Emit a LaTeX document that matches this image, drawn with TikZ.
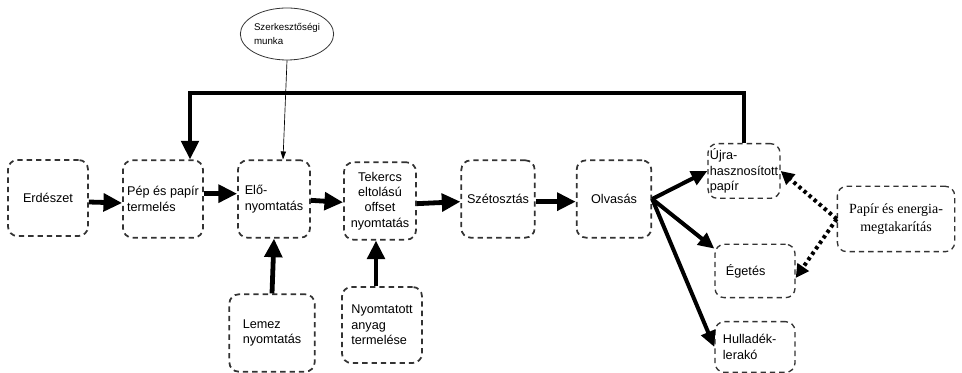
\documentclass[tikz,border=0pt]{standalone}
\usepackage{fontspec}
\setmainfont{Liberation Sans}
\newfontfamily\timesfont{Liberation Serif}
\usetikzlibrary{arrows.meta,shapes.geometric,calc}

\tikzset{
    stage/.style={draw=black!80, line width=1.3pt, dash pattern=on 4pt off 3pt,
        rounded corners=7pt, inner sep=0pt, align=left, font=\fontsize{9.5}{11.5}\selectfont},
    fat/.style={line width=3.6pt, -{Triangle[length=14pt,width=13pt]}},
    mid/.style={line width=3pt, -{Triangle[length=12pt,width=11pt]}},
    dots/.style={line width=3pt, dash pattern=on 2.5pt off 2.5pt, -{Triangle[length=10pt,width=10pt]}},
    thin/.style={line width=0.5pt, -{Triangle[length=6pt,width=4pt]}}
}

\begin{document}
\begin{tikzpicture}[x=0.75pt, y=-0.75pt]
    \useasboundingbox (0,0) rectangle (962,373);

    \node[stage, minimum width=60pt, minimum height=57pt] (erd) at (48,198) {Erdészet};
    \node[stage, minimum width=60pt, minimum height=58pt] (pep) at (163,199) {Pép és papír\\termelés};
    \node[stage, minimum width=54pt, minimum height=58pt] (elo) at (274,199) {Elő-\\nyomtatás};
    \node[stage, minimum width=54pt, minimum height=58pt, align=center] (tek) at (380,201) {Tekercs\\eltolású\\offset\\nyomtatás};
    \node[stage, minimum width=55pt, minimum height=58pt] (szet) at (498,199) {Szétosztás};
    \node[stage, minimum width=56pt, minimum height=58pt] (olv) at (614,199) {Olvasás};
    \node[stage, minimum width=54pt, minimum height=41pt, line width=1pt] (ujra) at (744,171) {Újra-\\hasznosított\\papír};
    \node[stage, minimum width=60pt, minimum height=40pt, line width=1pt] (eget) at (755,271) {Égetés\hspace*{14pt}};
    \node[stage, minimum width=60pt, minimum height=38pt, line width=1pt] (hull) at (755,347) {Hulladék-\hspace*{8pt}\\lerakó};
    \node[stage, minimum width=88pt, minimum height=49pt, align=center, line width=1pt,
        font=\timesfont\fontsize{10.5}{13}\selectfont] (papir) at (896,219) {Papír és energia-\\megtakarítás};
    \node[stage, minimum width=64pt, minimum height=58pt] (lemez) at (272,333) {Lemez\\nyomtatás};
    \node[stage, minimum width=60pt, minimum height=57pt] (nyom) at (382,325) {Nyomtatott\\anyag\\termelése};
    \node[draw=black!80, line width=0.6pt, ellipse, minimum width=61pt, minimum height=39pt, inner sep=0pt,
        align=left, font=\fontsize{7.3}{10}\selectfont] (ell) at (287,34) {Szerkesztőségi\\munka};

    % main flow
    \draw[fat] ([yshift=-3pt]erd.east) -- ([yshift=-3pt]pep.west);
    \draw[fat] ([yshift=4pt]pep.east) -- ([yshift=4pt]elo.west);
    \draw[fat] ([yshift=-1pt]elo.east) -- ([yshift=-1pt]tek.west);
    \draw[fat] ([yshift=-2pt]tek.east) -- ([yshift=-2pt]szet.west);
    \draw[fat] ([yshift=-2pt]szet.east) -- ([yshift=-2pt]olv.west);
    \draw[fat] (lemez.north) -- (elo.south);
    \draw[fat] ($(nyom.north)+(-6,0)$) -- ($(tek.south)+(-4,0)$);

    % after reading
    \draw[mid] (olv.east) -- (ujra.west);
    \draw[mid] (olv.east) -- ($(eget.north west)+(0,5)$);
    \draw[mid] (olv.east) -- (hull.west);
    \draw[dots] (papir.west) -- (ujra.east);
    \draw[dots] (papir.west) -- ($(eget.east)+(0,7)$);

    % feedback and editorial input
    \draw[fat, line width=3.2pt] (ujra.north) -- ++(0,-50) -| ($(pep.north)+(27,0)$);
    \draw[thin] (ell.south) -- ($(elo.north)+(9,0)$);
\end{tikzpicture}
\end{document}
